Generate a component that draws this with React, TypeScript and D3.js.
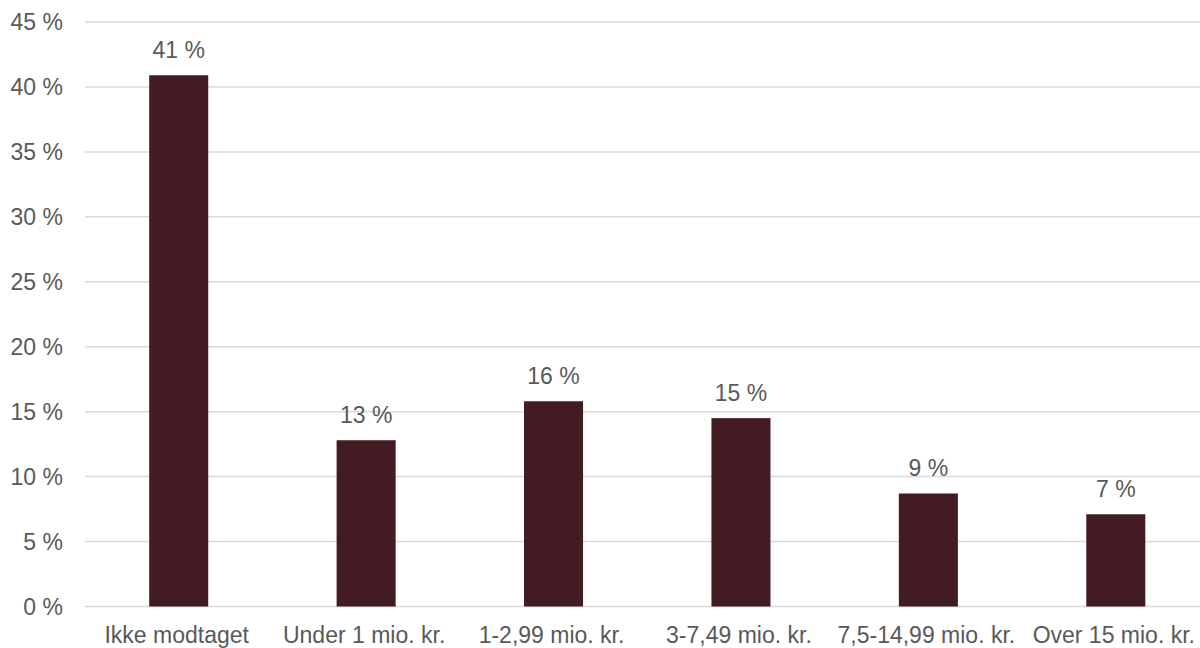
import React from "react";
import * as d3 from "d3";

const categories = [
  "Ikke modtaget",
  "Under 1 mio. kr.",
  "1-2,99 mio. kr.",
  "3-7,49 mio. kr.",
  "7,5-14,99 mio. kr.",
  "Over 15 mio. kr.",
];
const values = [40.9, 12.8, 15.8, 14.5, 8.7, 7.1];
const valueLabels = ["41 %", "13 %", "16 %", "15 %", "9 %", "7 %"];
const yTicks = [0, 5, 10, 15, 20, 25, 30, 35, 40, 45];

const W = 1200;
const H = 648;
const plotLeft = 85;
const plotRight = 1209.5;
const plotTop = 22;
const plotBottom = 606.5;

export default function App() {
  const x = d3.scaleBand<string>().domain(categories).range([plotLeft, plotRight]).padding(0);
  const y = d3.scaleLinear().domain([0, 45]).range([plotBottom, plotTop]);
  const barW = x.bandwidth() * 0.315;
  const font = "Arial, 'Liberation Sans', sans-serif";
  const textColor = "#595959";
  const fs = 23;

  return (
    <svg
      width={W}
      height={H}
      style={{ position: "absolute", left: 0, top: 0, background: "#fff" }}
      fontFamily={font}
    >
      <rect x={0} y={0} width={W} height={H} fill="#ffffff" />
      {yTicks.map((t) => (
        <g key={t}>
          <line
            x1={plotLeft}
            x2={plotRight}
            y1={y(t)}
            y2={y(t)}
            stroke="#d9d9d9"
            strokeWidth={1.5}
          />
          <text
            x={63}
            y={y(t)}
            dy="0.35em"
            textAnchor="end"
            fontSize={fs}
            fill={textColor}
          >
            {`${t} %`}
          </text>
        </g>
      ))}
      {categories.map((c, i) => {
        const cx = (x(c) as number) + x.bandwidth() / 2;
        return (
          <g key={c}>
            <rect
              x={cx - barW / 2}
              y={y(values[i])}
              width={barW}
              height={y(0) - y(values[i])}
              fill="#431b23"
            />
            <text
              x={cx}
              y={y(values[i]) - 17}
              textAnchor="middle"
              fontSize={fs}
              fill={textColor}
            >
              {valueLabels[i]}
            </text>
            <text
              x={cx - 2}
              y={642.5}
              textAnchor="middle"
              fontSize={fs}
              fill={textColor}
            >
              {c}
            </text>
          </g>
        );
      })}
    </svg>
  );
}
